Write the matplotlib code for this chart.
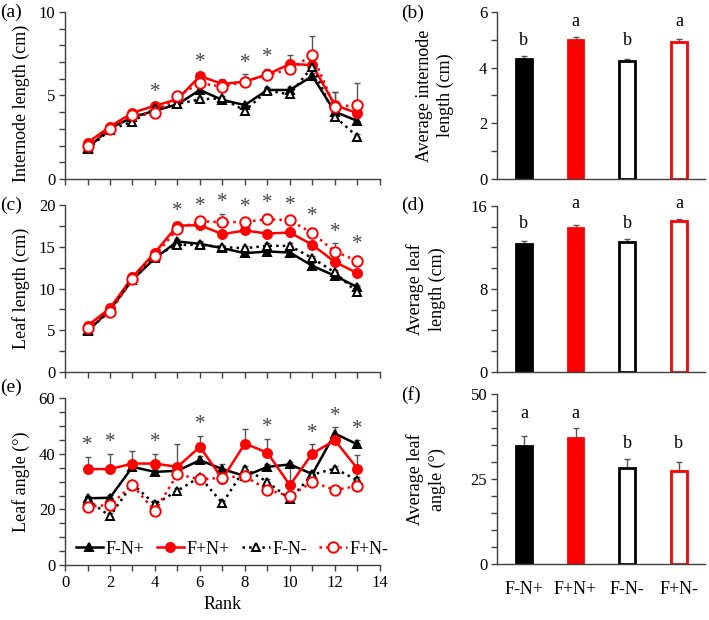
import numpy as np
import matplotlib
matplotlib.use("Agg")
import matplotlib.pyplot as plt
from matplotlib.ticker import MultipleLocator

plt.rcParams['font.family'] = ['Liberation Serif', 'DejaVu Serif']
plt.rcParams['font.size'] = 12

# ---------------- data ----------------
ranks = np.arange(1, 14)
treatments = ["F-N+", "F+N+", "F-N-", "F+N-"]

internode_FmNp = [1.85, 3.04, 3.70, 4.09, 4.47, 5.33, 4.73, 4.43, 5.33, 5.33, 6.16, 4.03, 3.48]
internode_FpNp = [2.18, 3.14, 3.97, 4.39, 4.77, 6.16, 5.69, 5.83, 6.26, 6.88, 6.82, 4.43, 3.94]
internode_FmNm = [1.79, 2.94, 3.44, 4.24, 4.49, 4.77, 4.83, 4.09, 5.29, 5.07, 6.72, 3.74, 2.54]
internode_FpNm = [1.99, 2.98, 3.84, 3.94, 4.97, 5.73, 5.53, 5.83, 6.22, 6.56, 7.42, 4.33, 4.43]
internode_err_FmNp = [0.08, 0.08, 0.10, 0.10, 0.10, 0.15, 0.12, 0.12, 0.15, 0.15, 0.20, 0.30, 0.15]
internode_err_FpNp = [0.08, 0.10, 0.10, 0.10, 0.12, 0.15, 0.28, 0.43, 0.32, 0.52, 0.25, 0.80, 0.20]
internode_err_FmNm = [0.08, 0.08, 0.10, 0.10, 0.10, 0.12, 0.12, 0.15, 0.15, 0.15, 0.30, 0.20, 0.15]
internode_err_FpNm = [0.08, 0.10, 0.10, 0.10, 0.12, 0.15, 0.20, 0.20, 0.20, 0.25, 1.13, 0.90, 1.33]
internode_sig = [4, 6, 8, 9]

leaf_FmNp = [4.87, 7.47, 11.06, 13.65, 15.65, 15.37, 14.85, 14.25, 14.45, 14.33, 12.73, 11.54, 10.18]
leaf_FpNp = [5.55, 7.66, 11.38, 14.33, 17.56, 17.60, 16.53, 16.97, 16.60, 16.73, 15.25, 13.20, 11.86]
leaf_FmNm = [4.99, 7.27, 11.26, 13.93, 15.25, 15.25, 14.97, 14.85, 15.13, 15.13, 13.65, 11.94, 9.54]
leaf_FpNm = [5.27, 7.15, 11.14, 13.93, 17.17, 18.08, 17.96, 18.00, 18.32, 18.20, 16.65, 14.45, 13.33]
leaf_err_FmNp = [0.2, 0.2, 0.3, 0.3, 0.3, 0.3, 0.3, 0.3, 0.3, 0.3, 0.3, 0.3, 0.3]
leaf_err_FpNp = [0.2, 0.2, 0.5, 0.3, 0.3, 0.3, 0.3, 0.3, 0.3, 0.3, 0.3, 0.3, 0.3]
leaf_err_FmNm = [0.2, 0.2, 0.3, 0.3, 0.3, 0.3, 0.3, 0.3, 0.3, 0.3, 0.3, 0.3, 0.3]
leaf_err_FpNm = [0.2, 0.2, 0.4, 0.3, 0.3, 0.48, 1.0, 0.44, 0.6, 0.44, 0.65, 1.0, 0.63]
leaf_sig = [5, 6, 7, 8, 9, 10, 11, 12, 13]

angle_FmNp = [24.0, 24.2, 35.3, 33.5, 33.9, 37.7, 34.5, 32.0, 35.3, 36.2, 32.7, 47.3, 43.4]
angle_FpNp = [34.5, 34.5, 36.5, 36.5, 35.3, 42.5, 31.0, 43.7, 40.4, 28.7, 40.1, 44.9, 34.7]
angle_FmNm = [23.5, 17.6, 29.1, 21.9, 26.7, 31.7, 22.2, 34.7, 29.9, 23.7, 32.5, 34.7, 30.5]
angle_FpNm = [21.0, 21.6, 28.7, 19.4, 32.7, 30.8, 31.4, 32.0, 27.0, 24.8, 29.9, 27.0, 28.4]
angle_err_FmNp = [1.0, 1.0, 1.5, 1.0, 1.0, 1.5, 1.8, 1.0, 1.0, 1.0, 1.0, 2.2, 1.5]
angle_err_FpNp = [4.4, 5.6, 4.5, 3.4, 8.1, 4.0, 1.5, 5.1, 5.1, 7.3, 3.3, 1.5, 4.8]
angle_err_FmNm = [1.0, 1.0, 1.0, 1.0, 1.0, 1.0, 1.0, 1.0, 1.0, 1.0, 1.0, 1.0, 1.0]
angle_err_FpNm = [1.0, 1.0, 1.0, 1.0, 1.0, 1.0, 1.0, 1.0, 1.0, 1.0, 1.0, 1.0, 1.0]
angle_sig = [1, 2, 4, 6, 9, 11, 12, 13]

avg_internode = [4.31, 5.00, 4.24, 4.92]
avg_internode_err = [0.10, 0.10, 0.07, 0.11]
avg_internode_letters = ["b", "a", "b", "a"]

avg_leaf = [12.29, 13.82, 12.54, 14.56]
avg_leaf_err = [0.31, 0.38, 0.29, 0.22]
avg_leaf_letters = ["b", "a", "b", "a"]

avg_angle = [34.8, 37.0, 28.2, 27.5]
avg_angle_err = [3.0, 2.9, 2.6, 2.4]
avg_angle_letters = ["a", "a", "b", "b"]

# ---------------- styles ----------------
RED = "#ff0000"
SPINE = "#404040"
styles = {
    "F-N+": dict(color="black", ls="-", marker="^", mfc="black", mec="black", ms=6),
    "F+N+": dict(color=RED, ls="-", marker="o", mfc=RED, mec=RED, ms=6.5),
    "F-N-": dict(color="black", ls=":", marker="^", mfc="white", mec="black", ms=6),
    "F+N-": dict(color=RED, ls=":", marker="o", mfc="white", mec=RED, ms=7.5),
}

fig = plt.figure(figsize=(7.09, 6.20), dpi=100)

def style_axes(ax):
    for s in ("top", "right"):
        ax.spines[s].set_visible(False)
    for s in ("left", "bottom"):
        ax.spines[s].set_color(SPINE)
        ax.spines[s].set_linewidth(1.0)
    ax.tick_params(which="both", direction="out", length=4, width=1.0, color=SPINE,
                   labelsize=12, pad=3)


def line_panel(rect, series, errs, sig, ylim, major, minor, ylabel, xlabels,
               legend=False, label_y=0.5):
    ax = fig.add_axes(rect)
    style_axes(ax)
    handles = []
    for name in treatments:
        y = np.array(series[name])
        e = np.array(errs[name])
        st = styles[name]
        ax.errorbar(ranks, y, yerr=[np.zeros_like(e), e], fmt="none", ecolor="#555555",
                     elinewidth=1.0, capsize=2.5, capthick=1.0, zorder=1)
        h, = ax.plot(ranks, y, color=st["color"], ls=st["ls"], lw=1.8, marker=st["marker"],
                     mfc=st["mfc"], mec=st["mec"], ms=st["ms"], mew=1.4, zorder=3,
                     label=name)
        handles.append(h)
    tops = np.max([np.array(series[n]) + np.array(errs[n]) for n in treatments], axis=0)
    for r in sig:
        ax.annotate("*", xy=(r, tops[r - 1]), xytext=(0, 8), textcoords="offset points",
                    ha="center", va="center", fontsize=15, color="#444444")
    ax.set_xlim(0, 14)
    ax.set_ylim(*ylim)
    ax.yaxis.set_major_locator(MultipleLocator(major))
    ax.yaxis.set_minor_locator(MultipleLocator(minor))
    if xlabels:
        ax.xaxis.set_major_locator(MultipleLocator(2))
        ax.xaxis.set_minor_locator(MultipleLocator(1))
        ax.set_xlabel("Rank", fontsize=13, labelpad=4)
    else:
        ax.xaxis.set_major_locator(MultipleLocator(1))
        ax.set_xticklabels([])
    ax.set_ylabel(ylabel, fontsize=13, labelpad=6)
    ax.yaxis.label.set_y(label_y)
    if legend:
        ax.legend(handles=handles, loc="lower center", ncol=4, frameon=False,
                  fontsize=13, handlelength=1.5, handletextpad=0.15, columnspacing=0.7,
                  bbox_to_anchor=(0.53, -0.02), borderaxespad=0.2)
    return ax


def bar_panel(rect, vals, errs, letters, ylim, major, minor, ylabel, xlabels):
    ax = fig.add_axes(rect)
    style_axes(ax)
    x = np.arange(len(treatments))
    faces = ["black", RED, "white", "white"]
    edges = ["black", RED, "black", RED]
    ax.bar(x, vals, width=0.3, color=faces, edgecolor=edges, linewidth=2.0, zorder=2)
    ax.errorbar(x, vals, yerr=[np.zeros(len(errs)), errs], fmt="none", ecolor="#555555",
                elinewidth=1.0, capsize=2.5, capthick=1.0, zorder=1)
    tops = np.array(vals) + np.array(errs)
    for i, lt in enumerate(letters):
        grp = max(tops[j] for j in range(len(letters)) if letters[j] == lt)
        ax.annotate(lt, xy=(x[i], grp), xytext=(0, 5), textcoords="offset points",
                    ha="center", va="bottom", fontsize=13)
    ax.set_xlim(-0.52, 3.5)
    ax.set_ylim(*ylim)
    ax.yaxis.set_major_locator(MultipleLocator(major))
    ax.yaxis.set_minor_locator(MultipleLocator(minor))
    ax.set_xticks(x)
    ax.tick_params(axis="x", length=0, pad=12)
    if xlabels:
        ax.set_xticklabels(treatments, fontsize=13)
    else:
        ax.set_xticklabels([])
    ax.set_ylabel(ylabel, fontsize=13, labelpad=18, linespacing=1.3)
    return ax


L1, W1 = 0.0917, 0.444
L2, W2 = 0.701, 0.293

line_panel([L1, 0.711, W1, 0.270],
           {"F-N+": internode_FmNp, "F+N+": internode_FpNp, "F-N-": internode_FmNm, "F+N-": internode_FpNm},
           {"F-N+": internode_err_FmNp, "F+N+": internode_err_FpNp, "F-N-": internode_err_FmNm, "F+N-": internode_err_FpNm},
           internode_sig, (0, 10), 5, 1, "Internode length (cm)", False, label_y=0.45)

line_panel([L1, 0.400, W1, 0.269],
           {"F-N+": leaf_FmNp, "F+N+": leaf_FpNp, "F-N-": leaf_FmNm, "F+N-": leaf_FpNm},
           {"F-N+": leaf_err_FmNp, "F+N+": leaf_err_FpNp, "F-N-": leaf_err_FmNm, "F+N-": leaf_err_FpNm},
           leaf_sig, (0, 20), 5, 2.5, "Leaf length (cm)", False)

line_panel([L1, 0.0887, W1, 0.269],
           {"F-N+": angle_FmNp, "F+N+": angle_FpNp, "F-N-": angle_FmNm, "F+N-": angle_FpNm},
           {"F-N+": angle_err_FmNp, "F+N+": angle_err_FpNp, "F-N-": angle_err_FmNm, "F+N-": angle_err_FpNm},
           angle_sig, (0, 60), 20, 5, "Leaf angle (°)", True, legend=True)

bar_panel([L2, 0.711, W2, 0.270], avg_internode, avg_internode_err, avg_internode_letters,
          (0, 6), 2, 1, "Average internode\nlength (cm)", False)
bar_panel([L2, 0.400, W2, 0.268], avg_leaf, avg_leaf_err, avg_leaf_letters,
          (0, 16), 8, 2, "Average leaf\nlength (cm)", False)
bar_panel([L2, 0.0903, W2, 0.274], avg_angle, avg_angle_err, avg_angle_letters,
          (0, 50), 25, 5, "Average leaf\nangle (°)", True)

for lab, x, y in [("(a)", 0.0, 0.980), ("(c)", 0.0, 0.669), ("(e)", 0.0, 0.376),
                  ("(b)", 0.566, 0.978), ("(d)", 0.566, 0.669), ("(f)", 0.566, 0.363)]:
    fig.text(x, y, lab, fontsize=14, ha="left", va="center")

fig.savefig("out.png", dpi=100)
